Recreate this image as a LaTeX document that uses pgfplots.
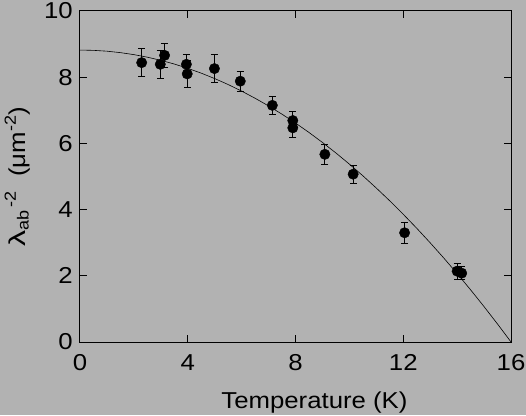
\documentclass[border=0pt]{standalone}
\usepackage{fontspec}
\setmainfont[FakeStretch=1.12]{Liberation Sans}
\usepackage{graphicx}
\usepackage{pgfplots}
\pgfplotsset{compat=1.18}
\definecolor{bg}{gray}{0.70}
\newcommand\ff{\fontsize{23}{27}\selectfont}
\pgfplotstableread{
x y e
2.29 8.44 0.43
2.98 8.39 0.43
3.14 8.66 0.37
3.95 8.39 0.30
3.98 8.10 0.40
4.99 8.26 0.42
5.95 7.88 0.30
7.14 7.15 0.27
7.90 6.69 0.28
7.90 6.47 0.28
9.09 5.67 0.30
10.14 5.07 0.27
12.05 3.30 0.31
14.00 2.14 0.24
14.17 2.08 0.20
}\datatable
\begin{document}
\begin{tikzpicture}
\fill[bg] (-80pt,-73pt) rectangle (446pt,342pt);
\path[use as bounding box] (-80pt,-73pt) rectangle (446pt,342pt);
\begin{axis}[
  at={(0pt,0pt)}, anchor=south west,
  width=431pt, height=331pt, scale only axis,
  xmin=0, xmax=16, ymin=0, ymax=10,
  xtick={0,4,8,12,16}, ytick={0,2,4,6,8,10},
  tick pos=both, tick align=inside, major tick length=7pt,
  axis line style={line width=1pt},
  every tick/.style={black, line width=1pt},
  /pgf/number format/assume math mode=true,
  ticklabel style={font=\ff},
  xticklabel style={anchor=base, yshift=-28.7pt, inner sep=0pt},
  yticklabel style={anchor=east, xshift=-7pt, inner sep=0pt},
  xlabel={Temperature (K)},
  xlabel style={font=\ff, at={(axis description cs:0.544,0)}, anchor=base, yshift=-66pt, inner sep=0pt},
  ylabel={\scalebox{1.25}[1]{λ}\textsubscript{ab}\kern2pt\textsuperscript{-2}\ \ (μm\textsuperscript{-2})},
  ylabel style={font=\ff, at={(axis description cs:-0.1276,0.5)}, anchor=base, inner sep=0pt},
]
\addplot[black, line width=0.6pt] coordinates {
(0,8.820) (0.5,8.811) (1,8.786) (1.5,8.742) (2,8.682) (2.5,8.605) (3,8.510) (3.5,8.398)
(4,8.269) (4.5,8.122) (5,7.959) (5.5,7.778) (6,7.580) (6.5,7.364) (7,7.132) (7.5,6.882)
(8,6.615) (8.5,6.331) (9,6.029) (9.5,5.711) (10,5.375) (10.5,5.022) (11,4.651) (11.5,4.264)
(12,3.859) (12.5,3.437) (13,2.997) (13.5,2.541) (14,2.067) (14.5,1.576) (15,1.068) (15.5,0.543) (16,0)
};
\addplot[black, only marks, mark=*, mark size=5.2pt,
  error bars/.cd, y dir=both, y explicit,
  error bar style={line width=1pt},
  error mark options={rotate=90, mark size=3.6pt, line width=1pt}]
  table[x=x, y=y, y error=e] {\datatable};
\end{axis}
\end{tikzpicture}
\end{document}
